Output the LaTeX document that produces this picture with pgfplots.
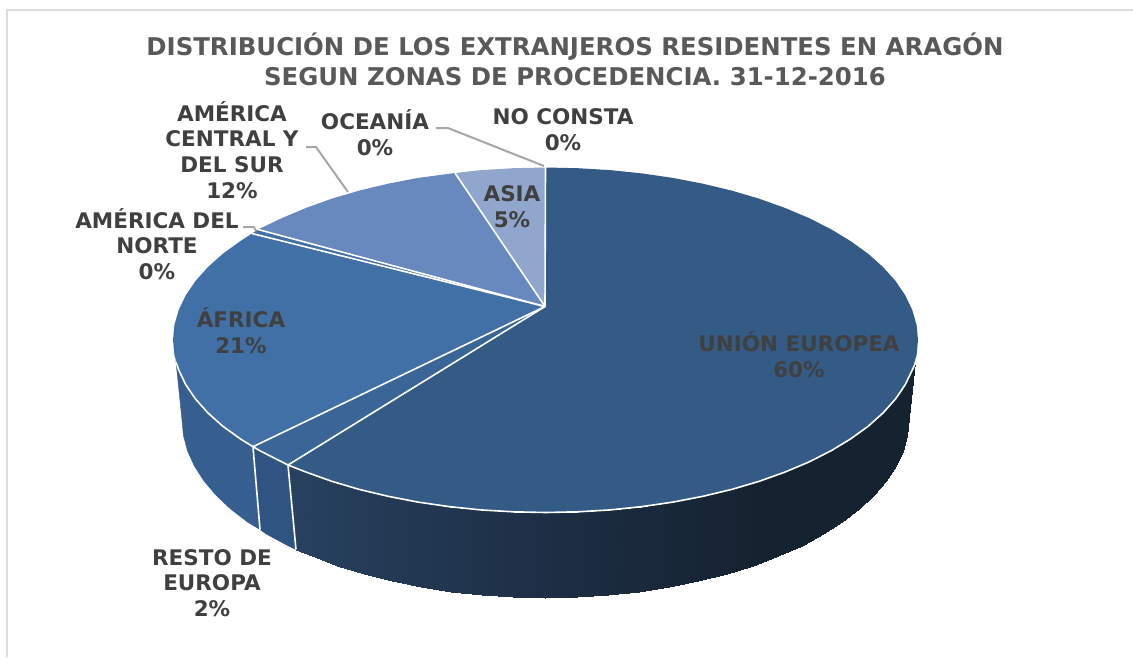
\documentclass[border=0pt]{standalone}
\usepackage{fontspec}
\setmainfont{DejaVu Sans}
\usepackage{pgfplots}
\pgfplotsset{compat=1.18}

\definecolor{txt}{HTML}{404040}
\definecolor{ttl}{HTML}{595959}
\definecolor{leader}{HTML}{A6A6A6}
\definecolor{framec}{HTML}{DCDCDC}
\definecolor{cUE}{HTML}{345A86}
\definecolor{cRE}{HTML}{3A6597}
\definecolor{cAF}{HTML}{4170A7}
\definecolor{cCS}{HTML}{6789BD}
\definecolor{cAS}{HTML}{90A6CC}
\definecolor{wAF}{HTML}{365F8F}
\definecolor{wRE}{HTML}{305481}

\tikzset{
  lab/.style={font=\bfseries\fontsize{21.5}{25.7}\selectfont, text=txt, align=center, inner sep=0pt},
  ttlab/.style={font=\bfseries\fontsize{24.4}{30}\selectfont, text=ttl, align=center, inner sep=0pt},
}
\pgfplotsset{
  wall/.style={fill=#1, draw=#1, line width=0.4pt},
  face/.style={fill=#1, draw=none},
  sep/.style={white, line width=1.6pt},
  lead/.style={leader, line width=2pt},
}

\begin{document}
\begin{tikzpicture}
\begin{axis}[
  scale only axis,
  width=1133pt, height=657pt,
  xmin=0, xmax=1133, ymin=0, ymax=657,
  y dir=reverse,
  hide axis,
  no marks,
  colormap={pared}{rgb255=(39,65,95) rgb255=(30,48,71) rgb255=(21,34,48)},
]
\addplot[draw=none] coordinates {(0,0) (1133,657)};
% marco
\addplot[framec, line width=2pt] coordinates {(7,657) (7,10) (1133,10)};

% pared lateral
\addplot[wall=wAF] coordinates {(253,446.7) (240.4,438.9) (222.9,426.3) (207.9,412.9) (195.5,399) (185.7,384.6) (178.7,369.9) (176,362) (182,420) (183.4,435.5) (187.5,450.9) (194.4,466.1) (203.9,480.9) (216,495.2) (230.6,509) (247.6,522.1) (260,529.6)} -- cycle;
\addplot[wall=wRE] coordinates {(253,446.7) (260.2,450.9) (282.1,462) (288,465) (296,549.5) (288.3,545.9) (266.9,534.4) (260,529.6)} -- cycle;
\addplot[patch, patch type=rectangle, shader=interp, point meta=x, point meta min=290, point meta max=760] coordinates {
(288,465) (306.1,472.1) (311.7,556.4) (296,549.5)
(306.1,472.1) (331.8,481.3) (336.8,565.8) (311.7,556.4)
(331.8,481.3) (359.2,489.4) (363.5,574.2) (336.8,565.8)
(359.2,489.4) (388.1,496.3) (391.6,581.3) (363.5,574.2)
(388.1,496.3) (418.1,502.1) (420.9,587.3) (391.6,581.3)
(418.1,502.1) (449.1,506.6) (451.1,591.9) (420.9,587.3)
(449.1,506.6) (480.8,509.9) (482,595.3) (451.1,591.9)
(480.8,509.9) (513,511.8) (513.3,597.3) (482,595.3)
(513,511.8) (545.5,512.5) (545,598) (513.3,597.3)
(545.5,512.5) (578,511.8) (576.7,597.3) (545,598)
(578,511.8) (610.2,509.9) (608,595.3) (576.7,597.3)
(610.2,509.9) (641.9,506.6) (638.9,591.9) (608,595.3)
(641.9,506.6) (672.9,502.1) (669.1,587.3) (638.9,591.9)
(672.9,502.1) (702.9,496.3) (698.4,581.3) (669.1,587.3)
(702.9,496.3) (731.8,489.4) (726.5,574.2) (698.4,581.3)
(731.8,489.4) (759.2,481.3) (753.2,565.8) (726.5,574.2)
(759.2,481.3) (784.9,472.1) (778.3,556.4) (753.2,565.8)
(784.9,472.1) (808.9,462) (801.7,545.9) (778.3,556.4)
(808.9,462) (830.8,450.9) (823.1,534.4) (801.7,545.9)
(830.8,450.9) (850.6,438.9) (842.4,522.1) (823.1,534.4)
(850.6,438.9) (868.1,426.3) (859.4,509) (842.4,522.1)
(868.1,426.3) (883.1,412.9) (874,495.2) (859.4,509)
(883.1,412.9) (895.5,399) (886.1,480.9) (874,495.2)
(895.5,399) (905.3,384.6) (895.6,466.1) (886.1,480.9)
(905.3,384.6) (912.3,369.9) (902.5,450.9) (895.6,466.1)
(912.3,369.9) (915,362) (906.6,435.5) (902.5,450.9)
(915,362) (915,362) (908,420) (906.6,435.5)
};

% cara superior, una porcion por zona
\addplot[face=cUE] coordinates {(545,306.5) (545.5,167.5) (578,168.2) (610.2,170.1) (641.9,173.4) (672.9,177.9) (702.9,183.7) (731.8,190.6) (759.2,198.7) (784.9,207.9) (808.9,218) (830.8,229.1) (850.6,241.1) (868.1,253.7) (883.1,267.1) (895.5,281) (905.3,295.4) (912.3,310.1) (916.6,325) (918,340) (916.6,355) (912.3,369.9) (905.3,384.6) (895.5,399) (883.1,412.9) (868.1,426.3) (850.6,438.9) (830.8,450.9) (808.9,462) (784.9,472.1) (759.2,481.3) (731.8,489.4) (702.9,496.3) (672.9,502.1) (641.9,506.6) (610.2,509.9) (578,511.8) (545.5,512.5) (513,511.8) (480.8,509.9) (449.1,506.6) (418.1,502.1) (388.1,496.3) (359.2,489.4) (331.8,481.3) (306.1,472.1) (288,465)} -- cycle;
\addplot[face=cRE] coordinates {(545,306.5) (288,465) (282.1,462) (260.2,450.9) (253,446.7)} -- cycle;
\addplot[face=cAF] coordinates {(545,306.5) (253,446.7) (240.4,438.9) (222.9,426.3) (207.9,412.9) (195.5,399) (185.7,384.6) (178.7,369.9) (174.4,355) (173,340) (174.4,325) (178.7,310.1) (185.7,295.4) (195.5,281) (207.9,267.1) (222.9,253.7) (240.4,241.1) (252,233.5)} -- cycle;
\addplot[face=cAF] coordinates {(545,306.5) (252,233.5) (258,229.5)} -- cycle;
\addplot[face=cCS] coordinates {(545,306.5) (258,229.5) (282.1,218) (306.1,207.9) (331.8,198.7) (359.2,190.6) (388.1,183.7) (418.1,177.9) (455,173)} -- cycle;
\addplot[face=cAS] coordinates {(545,306.5) (455,173) (480.8,170.1) (513,168.2) (545.5,167.5)} -- cycle;

% separaciones blancas
\addplot[sep] coordinates {(916,362) (912.3,369.9) (905.3,384.6) (895.5,399) (883.1,412.9) (868.1,426.3) (850.6,438.9) (830.8,450.9) (808.9,462) (784.9,472.1) (759.2,481.3) (731.8,489.4) (702.9,496.3) (672.9,502.1) (641.9,506.6) (610.2,509.9) (578,511.8) (545.5,512.5) (513,511.8) (480.8,509.9) (449.1,506.6) (418.1,502.1) (388.1,496.3) (359.2,489.4) (331.8,481.3) (306.1,472.1) (288,465) (282.1,462) (260.2,450.9) (253,446.7) (240.4,438.9) (222.9,426.3) (207.9,412.9) (195.5,399) (185.7,384.6) (178.7,369.9) (176,362)};
\addplot[sep] coordinates {(545.5,167) (545,306.5) (288,465) (296,549.5)};
\addplot[sep] coordinates {(545,306.5) (253,446.7) (260,529.6)};
\addplot[sep] coordinates {(545,306.5) (252,233.5)};
\addplot[sep] coordinates {(545,306.5) (258,229.5)};
\addplot[sep] coordinates {(545,306.5) (455,173)};

% lineas guia
\addplot[lead] coordinates {(436,128) (448,128) (544,166)};
\addplot[lead] coordinates {(306,147) (316,147) (348,192)};
\addplot[lead] coordinates {(243,227) (254,227) (256,231)};

% textos
\node[ttlab] at (axis cs:575,47) {DISTRIBUCIÓN DE LOS EXTRANJEROS RESIDENTES EN ARAGÓN};
\node[ttlab] at (axis cs:575,77) {SEGUN ZONAS DE PROCEDENCIA. 31-12-2016};
\node[lab] at (axis cs:232,150) {AMÉRICA\\CENTRAL Y\\DEL SUR\\12\%};
\node[lab] at (axis cs:375,133) {OCEANÍA\\0\%};
\node[lab] at (axis cs:563,130) {NO CONSTA\\0\%};
\node[lab] at (axis cs:512,207) {ASIA\\5\%};
\node[lab] at (axis cs:157,244) {AMÉRICA DEL\\NORTE\\0\%};
\node[lab] at (axis cs:241,331) {ÁFRICA\\21\%};
\node[lab] at (axis cs:799,355) {UNIÓN EUROPEA\\60\%};
\node[lab] at (axis cs:212,583) {RESTO DE\\EUROPA\\2\%};
\end{axis}
\end{tikzpicture}
\end{document}
